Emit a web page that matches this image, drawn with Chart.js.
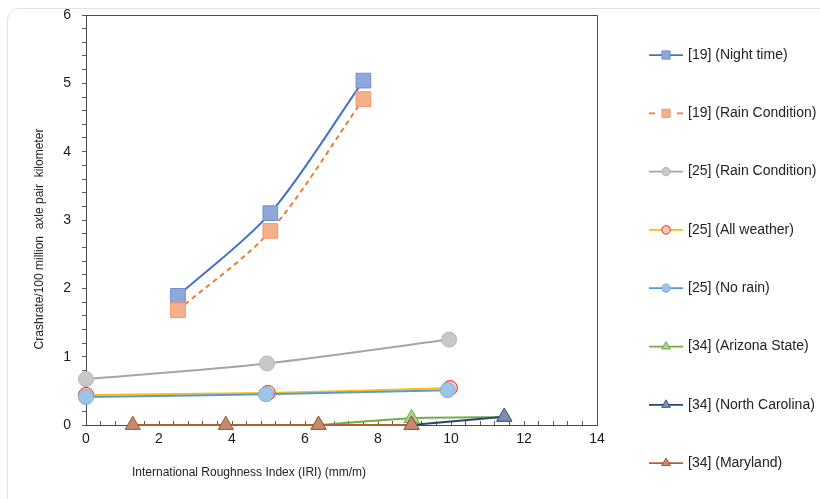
<!DOCTYPE html>
<html>
<head>
<meta charset="utf-8">
<script src="https://cdn.jsdelivr.net/npm/chart.js@4.4.1/dist/chart.umd.min.js"></script>
<style>
  html, body { margin: 0; padding: 0; background: #ffffff; overflow: hidden; }
  #wrap { position: relative; width: 820px; height: 499px; overflow: hidden; }
  #card { position: absolute; left: 7px; top: 8px; width: 900px; height: 600px;
          border: 1px solid #e2e2e2; border-radius: 12px; box-sizing: border-box; }
  canvas { position: absolute; left: 0; top: 0; }
</style>
</head>
<body>
<div id="wrap">
  <div id="card"></div>
  <canvas id="c" width="820" height="499"></canvas>
</div>
<script>
// ---- data ----
const seriesNames = [
  '[19] (Night time)', '[19] (Rain Condition)', '[25] (Rain Condition)', '[25] (All weather)',
  '[25] (No rain)', '[34] (Arizona State)', '[34] (North Carolina)', '[34] (Maryland)'
];
const nightX = [2.52, 5.05, 7.6];
const nightY = [1.89, 3.10, 5.04];
const rain19X = [2.52, 5.05, 7.6];
const rain19Y = [1.68, 2.84, 4.77];
const rain25X = [0, 4.96, 9.95];
const rain25Y = [0.67, 0.90, 1.25];
const allWeatherX = [0, 4.98, 9.97];
const allWeatherY = [0.44, 0.47, 0.54];
const noRainX = [0, 4.93, 9.91];
const noRainY = [0.41, 0.45, 0.51];
const arizonaX = [6.37, 8.92, 11.46];
const arizonaY = [0, 0.10, 0.115];
const ncX = [8.92, 11.46];
const ncY = [0, 0.12];
const marylandX = [1.28, 3.83, 6.37, 8.92];
const marylandY = [0, 0, 0, 0];

const xMajorLabels = [0, 2, 4, 6, 8, 10, 12, 14];
const yMajorLabels = [0, 1, 2, 3, 4, 5, 6];
const xTitle = 'International Roughness Index (IRI) (mm/m)';
const yTitle = 'Crashrate/100 million  axle pair  kilometer';

// ---- helpers ----
function pts(xs, ys) { return xs.map((x, i) => ({ x: x, y: ys[i] })); }
const xMinorTicks = []; for (let i = 0; i <= 35; i++) xMinorTicks.push(Math.round(i * 4) / 10);
const yMinorTicks = []; for (let i = 0; i <= 30; i++) yMinorTicks.push(Math.round(i * 2) / 10);
function isLabel(v, list) { return list.some(m => Math.abs(m - v) < 1e-6); }

const FONT = "'Liberation Sans', Arial, Helvetica, sans-serif";
Chart.defaults.font.family = FONT;

const styles = [
  { line: '#4472C4', fill: '#8FA8DA', edge: '#6F8FCF', shape: 'rect', r: 10.4, lr: 5.8, dash: [] },
  { line: '#ED7D31', fill: '#F4B08A', edge: '#F29A66', shape: 'rect', r: 10.4, lr: 5.8, dash: [5, 4] },
  { line: '#A5A5A5', fill: '#C8C8C8', edge: '#B5B5B5', shape: 'circle', r: 7.5, lr: 4.2, dash: [] },
  { line: '#FFC000', fill: '#F9D2B6', edge: '#FF2020', shape: 'circle', r: 7.5, lr: 4.2, dash: [] },
  { line: '#5B9BD5', fill: '#9DC3E6', edge: '#7FAFDF', shape: 'circle', r: 7.5, lr: 4.2, dash: [] },
  { line: '#70AD47', fill: '#A9D18E', edge: '#70AD47', shape: 'triangle', r: 8.8, lr: 5, dash: [] },
  { line: '#264478', fill: '#7D8FAD', edge: '#3B5282', shape: 'triangle', r: 8.8, lr: 5, dash: [] },
  { line: '#B0602E', fill: '#C58A6E', edge: '#A4552B', shape: 'triangle', r: 8.8, lr: 5, dash: [] }
];
const seriesData = [
  pts(nightX, nightY), pts(rain19X, rain19Y), pts(rain25X, rain25Y), pts(allWeatherX, allWeatherY),
  pts(noRainX, noRainY), pts(arizonaX, arizonaY), pts(ncX, ncY), pts(marylandX, marylandY)
];
const tensions = [0.3, 0.3, 0.3, 0.3, 0.3, 0.2, 0, 0];

const datasets = seriesData.map((d, i) => ({
  label: seriesNames[i],
  data: d,
  borderColor: styles[i].line,
  borderWidth: 2,
  borderDash: styles[i].dash,
  backgroundColor: styles[i].fill,
  pointStyle: styles[i].shape,
  pointRadius: styles[i].r,
  pointBackgroundColor: styles[i].fill,
  pointBorderColor: styles[i].edge,
  pointBorderWidth: 1,
  pointHoverRadius: styles[i].r,
  tension: tensions[i],
  fill: false,
  clip: false,
  order: seriesData.length - 1 - i
}));

// frame around plot area (top/right edges)
const framePlugin = {
  id: 'frame',
  beforeDatasetsDraw(chart) {
    const a = chart.chartArea, ctx = chart.ctx;
    ctx.save();
    ctx.strokeStyle = '#4a4a4a';
    ctx.lineWidth = 1;
    ctx.beginPath();
    ctx.moveTo(Math.round(a.left) + 0.5, Math.round(a.top) + 0.5);
    ctx.lineTo(Math.round(a.right) + 0.5, Math.round(a.top) + 0.5);
    ctx.lineTo(Math.round(a.right) + 0.5, Math.round(a.bottom) + 0.5);
    ctx.stroke();
    ctx.restore();
  }
};

// axis titles placed as in the reference
const titlesPlugin = {
  id: 'titles',
  afterDraw(chart) {
    const a = chart.chartArea, ctx = chart.ctx;
    ctx.save();
    ctx.fillStyle = '#222222';
    ctx.font = '12px ' + FONT;
    ctx.textAlign = 'center';
    ctx.textBaseline = 'middle';
    ctx.fillText(xTitle, a.left + 163, a.bottom + 48);
    ctx.translate(a.left - 46, a.top + 224);
    ctx.rotate(-Math.PI / 2);
    ctx.fillText(yTitle, 0, 0);
    ctx.restore();
  }
};

// legend on the right: line with marker, evenly spread
const legendPlugin = {
  id: 'sideLegend',
  afterDraw(chart) {
    const ctx = chart.ctx;
    const x0 = 649, x1 = 683, xm = 666, xt = 688, y0 = 55, step = 58.3;
    chart.data.datasets.forEach((ds, i) => {
      const st = styles[i];
      const y = y0 + i * step;
      ctx.save();
      ctx.strokeStyle = ds.borderColor;
      ctx.lineWidth = 1.75;
      ctx.beginPath();
      if (st.dash.length) {
        ctx.moveTo(x0, y); ctx.lineTo(x0 + 6, y);
        ctx.moveTo(x1 - 6, y); ctx.lineTo(x1, y);
      } else {
        ctx.moveTo(x0, y); ctx.lineTo(x1, y);
      }
      ctx.stroke();
      ctx.fillStyle = st.fill;
      ctx.strokeStyle = st.edge;
      ctx.lineWidth = 1;
      Chart.helpers.drawPoint(ctx, { pointStyle: st.shape, radius: st.lr, rotation: 0, borderWidth: 1 }, xm, y);
      ctx.fillStyle = '#222222';
      ctx.font = '14px ' + FONT;
      ctx.textAlign = 'left';
      ctx.textBaseline = 'middle';
      ctx.fillText(ds.label, xt, y);
      ctx.restore();
    });
  }
};

new Chart(document.getElementById('c'), {
  type: 'line',
  data: { datasets: datasets },
  options: {
    responsive: false,
    animation: false,
    events: [],
    layout: { padding: { left: 0, top: 15, right: 223, bottom: 0 } },
    plugins: { legend: { display: false }, tooltip: { enabled: false }, title: { display: false } },
    scales: {
      x: {
        type: 'linear', min: 0, max: 14,
        afterBuildTicks: s => { s.ticks = xMinorTicks.map(v => ({ value: v })); },
        afterFit: s => { s.height = 74; s.paddingLeft = 0; s.paddingRight = 0; },
        ticks: {
          autoSkip: false, maxRotation: 0, padding: 10, color: '#1a1a1a',
          font: { size: 14 },
          callback: v => isLabel(v, xMajorLabels) ? String(Math.round(v)) : ''
        },
        grid: { drawOnChartArea: false, tickLength: -4, color: '#595959' },
        border: { color: '#4a4a4a', width: 1 }
      },
      y: {
        type: 'linear', min: 0, max: 6,
        afterBuildTicks: s => { s.ticks = yMinorTicks.map(v => ({ value: v })); },
        afterFit: s => { s.width = 86; s.paddingTop = 0; s.paddingBottom = 0; },
        ticks: {
          autoSkip: false, padding: 11, color: '#1a1a1a',
          font: { size: 14 },
          callback: v => isLabel(v, yMajorLabels) ? String(Math.round(v)) : ''
        },
        grid: { drawOnChartArea: false, tickLength: 4, color: '#595959' },
        border: { color: '#4a4a4a', width: 1 }
      }
    }
  },
  plugins: [framePlugin, titlesPlugin, legendPlugin]
});
</script>
</body>
</html>
